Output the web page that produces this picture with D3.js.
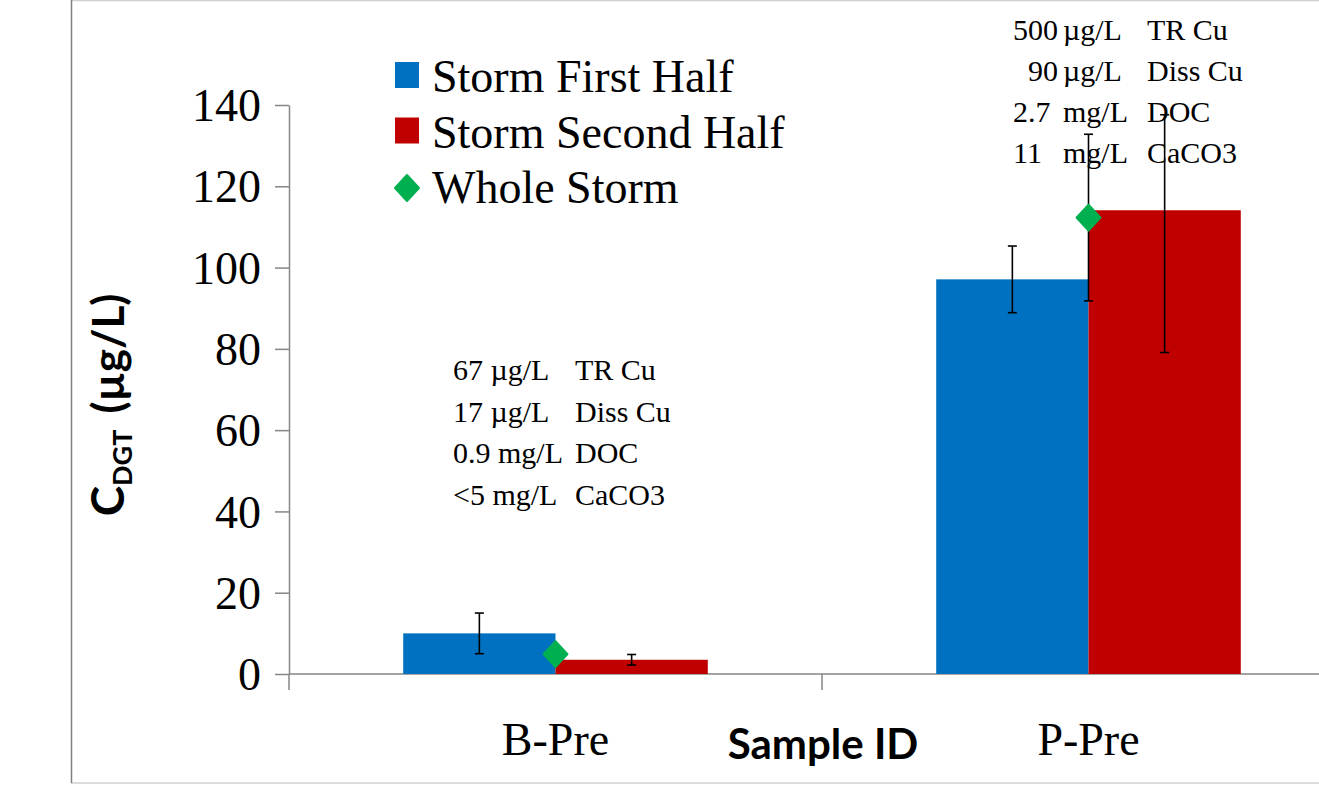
<!DOCTYPE html>
<html>
<head>
<meta charset="utf-8">
<script src="https://cdn.jsdelivr.net/npm/d3@7"></script>
<style>
  html, body { margin: 0; padding: 0; background: #fff; overflow: hidden; }
  svg { display: block; }
  .tick text { font-family: "Liberation Serif", serif; }
</style>
</head>
<body>
<div id="chart"></div>
<script>
// chart data
const categories = ["B-Pre", "P-Pre"];
const seriesNames = ["Storm First Half", "Storm Second Half"];
const firstHalf = [10.0, 97.1];
const firstHalfErr = [5.0, 8.2];
const secondHalf = [3.5, 114.1];
const secondHalfErrPlus = [1.3, 23.5];
const secondHalfErrMinus = [1.3, 35.0];
const wholeStorm = [4.9, 112.3];
const wholeStormErr = [0, 20.5];
const yTicks = [0, 20, 40, 60, 80, 100, 120, 140];
const notesB = [["67 µg/L", "TR Cu"], ["17 µg/L", "Diss Cu"], ["0.9 mg/L", "DOC"], ["<5 mg/L", "CaCO3"]];
const notesP = [["500", "µg/L", "TR Cu"], ["  90", "µg/L", "Diss Cu"], ["2.7", "mg/L", "DOC"], ["11", "mg/L", "CaCO3"]];

const W = 1319, H = 785;
const colors = ["#0070C0", "#C00000"];
const green = "#00B050";
const axisColor = "#868686";

const svg = d3.select("#chart").append("svg")
    .attr("width", W)
    .attr("height", H);

// chart area border
svg.append("line").attr("x1", 71).attr("x2", W).attr("y1", 0.5).attr("y2", 0.5)
    .attr("stroke", "#d0d0d0").attr("stroke-width", 1.5);
svg.append("line").attr("x1", 71).attr("x2", W).attr("y1", 783).attr("y2", 783)
    .attr("stroke", "#d0d0d0").attr("stroke-width", 1.5);
svg.append("line").attr("x1", 71.5).attr("x2", 71.5).attr("y1", 0).attr("y2", 783)
    .attr("stroke", "#7f7f7f").attr("stroke-width", 1.5);

const y = d3.scaleLinear().domain([0, 140]).range([674, 105]);
const x = d3.scaleBand().domain(categories).range([289, 1355]);
const barW = x.bandwidth() / 3.5; // gap width 150%
const gap = barW * 0.75;

// y axis
const yAxis = svg.append("g")
    .attr("transform", "translate(289,0)")
    .call(d3.axisLeft(y).tickValues(yTicks).tickSize(14).tickSizeOuter(0).tickPadding(14));
yAxis.select(".domain").attr("stroke", axisColor).attr("stroke-width", 1.5);
yAxis.selectAll(".tick line").attr("stroke", axisColor).attr("stroke-width", 1.5);
yAxis.selectAll(".tick text")
    .attr("font-size", 46)
    .attr("fill", "#000")
    .attr("dy", "0.34em");

// x axis line + category boundary ticks
svg.append("line")
    .attr("x1", 289).attr("x2", W).attr("y1", y(0)).attr("y2", y(0))
    .attr("stroke", axisColor).attr("stroke-width", 1.5);
const bounds = categories.map(c => x(c)).concat([x(categories[categories.length - 1]) + x.bandwidth()]);
svg.selectAll(".cat-tick")
    .data(bounds)
    .enter().append("line")
    .attr("class", "cat-tick")
    .attr("x1", d => d).attr("x2", d => d)
    .attr("y1", y(0)).attr("y2", y(0) + 16)
    .attr("stroke", axisColor).attr("stroke-width", 1.5);

svg.selectAll(".cat-label")
    .data(categories)
    .enter().append("text")
    .attr("class", "cat-label")
    .attr("x", d => x(d) + x.bandwidth() / 2)
    .attr("y", 755)
    .attr("text-anchor", "middle")
    .attr("font-family", "Liberation Serif, serif")
    .attr("font-size", 46)
    .text(d => d);

// bars
const barData = [];
categories.forEach((c, i) => {
    barData.push({ cat: c, s: 0, v: firstHalf[i], ep: firstHalfErr[i], em: firstHalfErr[i] });
    barData.push({ cat: c, s: 1, v: secondHalf[i], ep: secondHalfErrPlus[i], em: secondHalfErrMinus[i] });
});
const barX = d => x(d.cat) + gap + d.s * barW;

svg.selectAll(".bar")
    .data(barData)
    .enter().append("rect")
    .attr("class", "bar")
    .attr("x", barX)
    .attr("y", d => y(d.v))
    .attr("width", barW)
    .attr("height", d => y(0) - y(d.v))
    .attr("fill", d => colors[d.s]);

// error bars
function errorBar(cx, v, ep, em) {
    const g = svg.append("g").attr("stroke", "#000").attr("stroke-width", 1.6);
    g.append("line").attr("x1", cx).attr("x2", cx).attr("y1", y(v + ep)).attr("y2", y(v - em));
    g.append("line").attr("x1", cx - 4.5).attr("x2", cx + 4.5).attr("y1", y(v + ep)).attr("y2", y(v + ep));
    g.append("line").attr("x1", cx - 4.5).attr("x2", cx + 4.5).attr("y1", y(v - em)).attr("y2", y(v - em));
}
barData.forEach(d => errorBar(barX(d) + barW / 2, d.v, d.ep, d.em));
categories.forEach((c, i) => {
    if (wholeStormErr[i] > 0) errorBar(x(c) + x.bandwidth() / 2, wholeStorm[i], wholeStormErr[i], wholeStormErr[i]);
});

// whole storm diamonds
const diamond = "M0,-13 L12,0 L0,13 L-12,0 Z";
svg.selectAll(".whole")
    .data(categories)
    .enter().append("path")
    .attr("class", "whole")
    .attr("d", diamond)
    .attr("transform", (d, i) => `translate(${x(d) + x.bandwidth() / 2},${y(wholeStorm[i])})`)
    .attr("fill", green)
    .attr("stroke", green)
    .attr("stroke-width", 2)
    .attr("stroke-linejoin", "round");

// legend
const legend = svg.append("g").attr("font-family", "Liberation Serif, serif").attr("font-size", 46);
seriesNames.forEach((name, i) => {
    legend.append("rect")
        .attr("x", 395).attr("y", 62 + i * 55.5)
        .attr("width", 24).attr("height", 26)
        .attr("fill", colors[i]);
    legend.append("text").attr("x", 432).attr("y", 92 + i * 55.5).text(name);
});
legend.append("path")
    .attr("d", diamond)
    .attr("transform", "translate(407,188)")
    .attr("fill", green).attr("stroke", green).attr("stroke-width", 2).attr("stroke-linejoin", "round");
legend.append("text").attr("x", 432).attr("y", 203).text("Whole Storm");

// annotations
const noteB = svg.append("g").attr("font-family", "Liberation Serif, serif").attr("font-size", 30);
notesB.forEach((r, i) => {
    const t = noteB.append("text").attr("y", 380 + i * 41.5);
    t.append("tspan").attr("x", 453).text(r[0]);
    t.append("tspan").attr("x", 575).text(r[1]);
});
const noteP = svg.append("g").attr("font-family", "Liberation Serif, serif").attr("font-size", 30);
notesP.forEach((r, i) => {
    const t = noteP.append("text").attr("y", 40 + i * 41)
        .attr("xml:space", "preserve").style("white-space", "pre");
    t.append("tspan").attr("x", 1013).text(r[0]);
    t.append("tspan").attr("x", 1063).text(r[1]);
    t.append("tspan").attr("x", 1147).text(r[2]);
});

// axis titles
svg.append("text")
    .attr("x", 823).attr("y", 759)
    .attr("text-anchor", "middle")
    .attr("font-family", "Lato, sans-serif")
    .attr("font-weight", "bold")
    .attr("font-size", 42)
    .text("Sample ID");

const yt = svg.append("text")
    .attr("transform", "translate(124,405) rotate(-90)")
    .attr("text-anchor", "middle")
    .attr("font-family", "Lato, sans-serif")
    .attr("font-weight", "bold")
    .attr("font-size", 44);
yt.append("tspan").attr("font-size", 46).text("C");
yt.append("tspan").attr("font-size", 27).attr("dy", 8).text("DGT");
yt.append("tspan").attr("dy", -8).text("\u2009 (µg/L)");
</script>
</body>
</html>
